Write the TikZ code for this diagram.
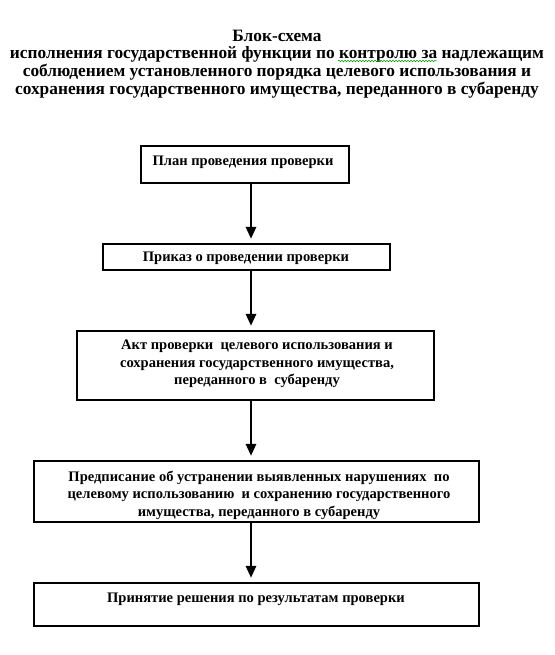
\documentclass[tikz,border=0pt]{standalone}
\usepackage{fontspec}
\setmainfont{Liberation Serif}
\usetikzlibrary{arrows.meta,decorations.pathmorphing}
\begin{document}
\begin{tikzpicture}[x=1bp,y=-1bp,
  ttl/.style={font=\fontsize{17.4}{17.8}\selectfont\bfseries,align=center,inner sep=0pt},
  txt/.style={font=\fontsize{14.6}{17.5}\selectfont\bfseries,align=center,inner sep=0pt},
  arr/.style={line width=2.8pt,-{Triangle[width=10bp,length=12bp]},shorten >=4bp}]
\useasboundingbox (0,0) rectangle (555,655);
\node[ttl] (title) at (277,64) {Блок-схема\\исполнения государственной функции по контролю за надлежащим\\соблюдением установленного порядка целевого использования и\\сохранения государственного имущества, переданного в субаренду};
\draw[green!60!black,line width=0.5pt,decorate,decoration={snake,amplitude=0.8bp,segment length=3bp}] (338,61) -- (437,61);
\node[draw,line width=2.2pt,minimum width=208bp,minimum height=37bp] (b1) at (245,164.5) {};
\node[draw,line width=2.2pt,minimum width=287bp,minimum height=26bp] (b2) at (246.5,257) {};
\node[draw,line width=2.2pt,minimum width=357bp,minimum height=69bp] (b3) at (255.5,365.5) {};
\node[draw,line width=2.2pt,minimum width=445bp,minimum height=61bp] (b4) at (256.5,491.5) {};
\node[draw,line width=2.2pt,minimum width=445bp,minimum height=43bp] (b5) at (256.5,604.5) {};
\node[txt] (t1) at (243,162.5) {План проведения проверки};
\node[txt] (t2) at (246,258.5) {Приказ о проведении проверки};
\node[txt] (t3) at (257,364) {Акт проверки\ \ целевого использования и\\сохранения государственного имущества,\\переданного в\ \ субаренду};
\node[txt] (t4) at (259,495) {Предписание об устранении выявленных нарушениях\ \ по\\целевому использованию\ \ и сохранению государственного\\имущества, переданного в субаренду};
\node[txt] (t5) at (256,599.5) {Принятие решения по результатам проверки};
\coordinate (ax) at (251,0);
\draw[arr] (b1.south -| ax) -- (b2.north -| ax);
\draw[arr] (b2.south -| ax) -- (b3.north -| ax);
\draw[arr] (b3.south -| ax) -- (b4.north -| ax);
\draw[arr] (b4.south -| ax) -- (b5.north -| ax);
\end{tikzpicture}
\end{document}
